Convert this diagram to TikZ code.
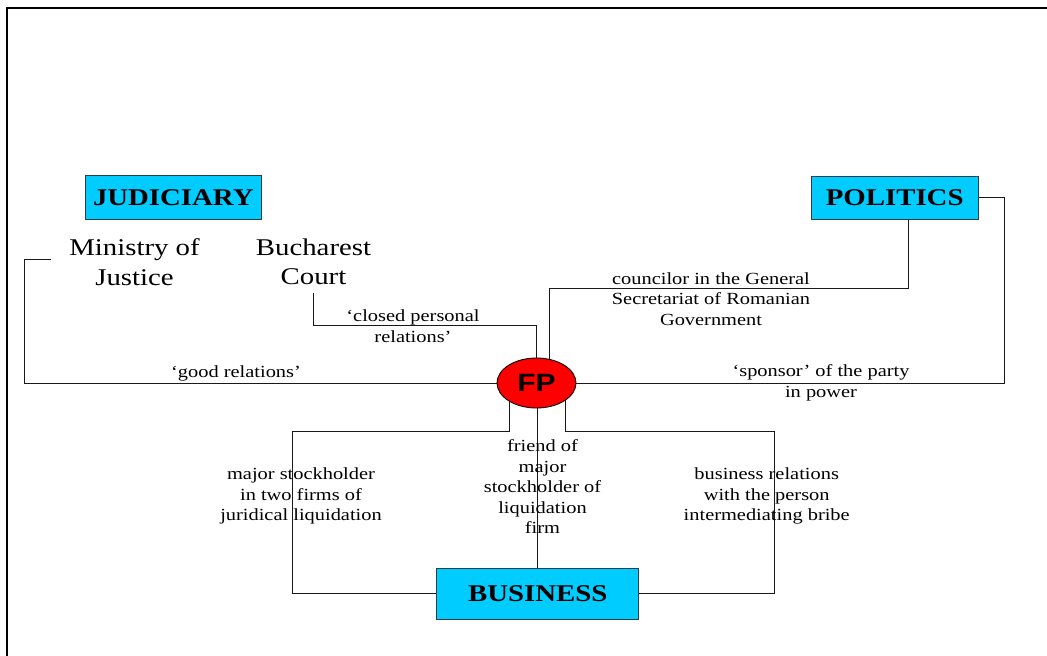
\documentclass[tikz,border=0pt]{standalone}
\usepackage{fontspec}
\usetikzlibrary{shapes.geometric,backgrounds}
\newfontfamily\serifw{Liberation Serif}[FakeStretch=1.2]
\newfontfamily\sansw{Liberation Sans}[FakeStretch=1.2]
\definecolor{boxcyan}{RGB}{0,204,255}
\definecolor{boxedge}{RGB}{45,60,70}
\definecolor{fpred}{RGB}{255,0,0}
\tikzset{
  catbox/.style={draw=boxedge, fill=boxcyan, line width=0.9pt, inner sep=0pt,
    font=\serifw\bfseries\fontsize{24}{28}\selectfont},
  fpnode/.style={ellipse, draw=black, fill=fpred, line width=0.9pt, inner sep=0pt,
    minimum width=79pt, minimum height=50pt, font=\sansw\bfseries\fontsize{25}{29}\selectfont},
  biglabel/.style={align=center, inner sep=0pt, font=\serifw\fontsize{24}{29.5}\selectfont},
  rellabel/.style={align=center, inner sep=0pt, font=\serifw\fontsize{17}{20.5}\selectfont},
  link/.style={draw=black!90, line width=0.8pt},
  frameline/.style={line width=2pt, draw=black}
}
\begin{document}
\begin{tikzpicture}[x=1pt, y=-1pt]
\useasboundingbox (0,0) rectangle (1047,656);
\draw[frameline] (6.5,656) -- (6.5,7.5) -- (1047,7.5);

% main nodes
\node[catbox, minimum width=175.3pt, minimum height=43.3pt] (jud) at (173.3,197.3) {JUDICIARY};
\node[catbox, minimum width=167pt, minimum height=43pt] (pol) at (894.7,197.5) {POLITICS};
\node[catbox, minimum width=202pt, minimum height=51pt] (bus) at (537.7,593.5) {BUSINESS};
\node[fpnode] (fp) at (536.5,383) {FP};

\node[biglabel] (min) at (134.5,262) {Ministry of\\Justice};
\node[biglabel] (court) at (313.5,262) {Bucharest\\Court};

\coordinate (minend) at (51,259);
\coordinate (courtend) at (313,293);

% connectors (behind the nodes)
\begin{scope}[on background layer]
  \draw[link] (minend) -- (24,259) -- (24,383) -- (fp.center);
  \draw[link] (courtend) -- (313,325) -- (536.5,325) -- (fp.center);
  \draw[link] ([xshift=13.3pt]pol.south) -- (908,288) -- (549,288) -- (549,383);
  \draw[link] (pol.east) -- (1004,197.5) -- (1004,383) -- (fp.center);
  \draw[link] (bus.west) -- (292.5,593.5) -- (292.5,431) -- (509,431) -- (509,383);
  \draw[link] (bus.north) -- (bus.north |- fp.center);
  \draw[link] (bus.east) -- (774,593.5) -- (774,431) -- (565,431) -- (565,383);
\end{scope}

% relation labels
\node[rellabel] (lgood) at (236,373) {‘good relations’};
\node[rellabel] (lclosed) at (413,326) {‘closed personal\\relations’};
\node[rellabel] (lcouncil) at (711,299) {councilor in the General\\Secretariat of Romanian\\Government};
\node[rellabel] (lsponsor) at (821,383) {‘sponsor’ of the party\\in power};
\node[rellabel] (lstock) at (301,496) {major stockholder\\in two firms of\\juridical liquidation};
\node[rellabel] (lfriend) at (542.5,487) {friend of\\major\\stockholder of\\liquidation\\firm};
\node[rellabel] (lbusrel) at (766.7,496) {business relations\\with the person\\intermediating bribe};
\end{tikzpicture}
\end{document}
